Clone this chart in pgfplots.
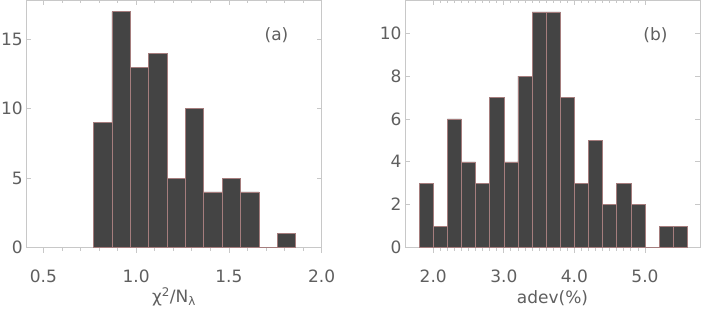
\documentclass[border=0pt]{standalone}
\usepackage{pgfplots}
\pgfplotsset{compat=1.18}
\usepackage{fontspec}
\setmainfont{DejaVu Sans}
\definecolor{barfill}{RGB}{68,68,68}
\definecolor{baredge}{RGB}{165,125,125}
\definecolor{framec}{RGB}{200,200,200}
\definecolor{txt}{RGB}{95,95,95}
\newcommand{\lblfont}{\fontsize{17bp}{19bp}\selectfont}
\pgfplotsset{
  common/.style={
    scale only axis, anchor=south west,
    height=247.5bp, ymin=0,
    axis line style={framec, line width=0.8bp},
    tick style={framec, line width=0.8bp},
    major tick length=5bp, minor tick length=3bp,
    tick label style={font=\lblfont, text=txt},
    label style={font=\lblfont, text=txt},
    /pgf/number format/assume math mode=true,
  },
  bottomax/.style={
    hide y axis, axis x line*=bottom, axis line style={-},
    tick align=outside,
    xticklabel style={yshift=-14bp, /pgf/number format/.cd, fixed, fixed zerofill, precision=1},
    xlabel style={at={(axis description cs:0.5,0)}, anchor=center, yshift=#1},
  },
  bars/.style={ybar interval, fill=barfill, draw=baredge, line width=0.5bp},
}
\begin{document}
\begin{tikzpicture}
% ---------- panel (a) ----------
\begin{axis}[common, at={(26.3bp,61.5bp)}, width=295.4bp,
  xmin=0.408, xmax=2.0, ymax=17.83,
  bottomax=-49bp,
  xtick={0.5,1.0,1.5,2.0}, minor x tick num=4,
  xlabel={χ\textsuperscript{2}/N\textsubscript{λ}}]
\end{axis}
\begin{axis}[common, at={(26.3bp,61.5bp)}, width=295.4bp,
  xmin=0.408, xmax=2.0, ymax=17.83,
  tick align=inside, xtick pos=top, xticklabels={},
  xtick={0.5,1.0,1.5,2.0}, minor x tick num=4, ytick={0,5,10,15}]
\addplot[bars] coordinates {(0.770,9) (0.869,17) (0.968,13) (1.067,14) (1.166,5) (1.265,10) (1.364,4) (1.463,5) (1.562,4) (1.661,0) (1.760,1) (1.859,1)};
\node[font=\lblfont, text=txt] at (rel axis cs:0.847,0.859) {(a)};
\end{axis}
% ---------- panel (b) ----------
\begin{axis}[common, at={(405bp,61.5bp)}, width=295bp,
  xmin=1.6, xmax=5.78, ymax=11.55,
  bottomax=-50.5bp,
  xtick={2,3,4,5}, minor x tick num=9,
  xlabel={adev(\%)}]
\end{axis}
\begin{axis}[common, at={(405bp,61.5bp)}, width=295bp,
  xmin=1.6, xmax=5.78, ymax=11.55,
  tick align=inside, xtick pos=top, xticklabels={},
  xtick={2,3,4,5}, minor x tick num=9, ytick={0,2,4,6,8,10}]
\addplot[bars] coordinates {(1.8,3) (2.0,1) (2.2,6) (2.4,4) (2.6,3) (2.8,7) (3.0,4) (3.2,8) (3.4,11) (3.6,11) (3.8,7) (4.0,3) (4.2,5) (4.4,2) (4.6,3) (4.8,2) (5.0,0) (5.2,1) (5.4,1) (5.6,1)};
\node[font=\lblfont, text=txt] at (rel axis cs:0.849,0.859) {(b)};
\end{axis}
\pgfresetboundingbox
\useasboundingbox (0,0) rectangle (701bp,309bp);
\end{tikzpicture}
\end{document}
